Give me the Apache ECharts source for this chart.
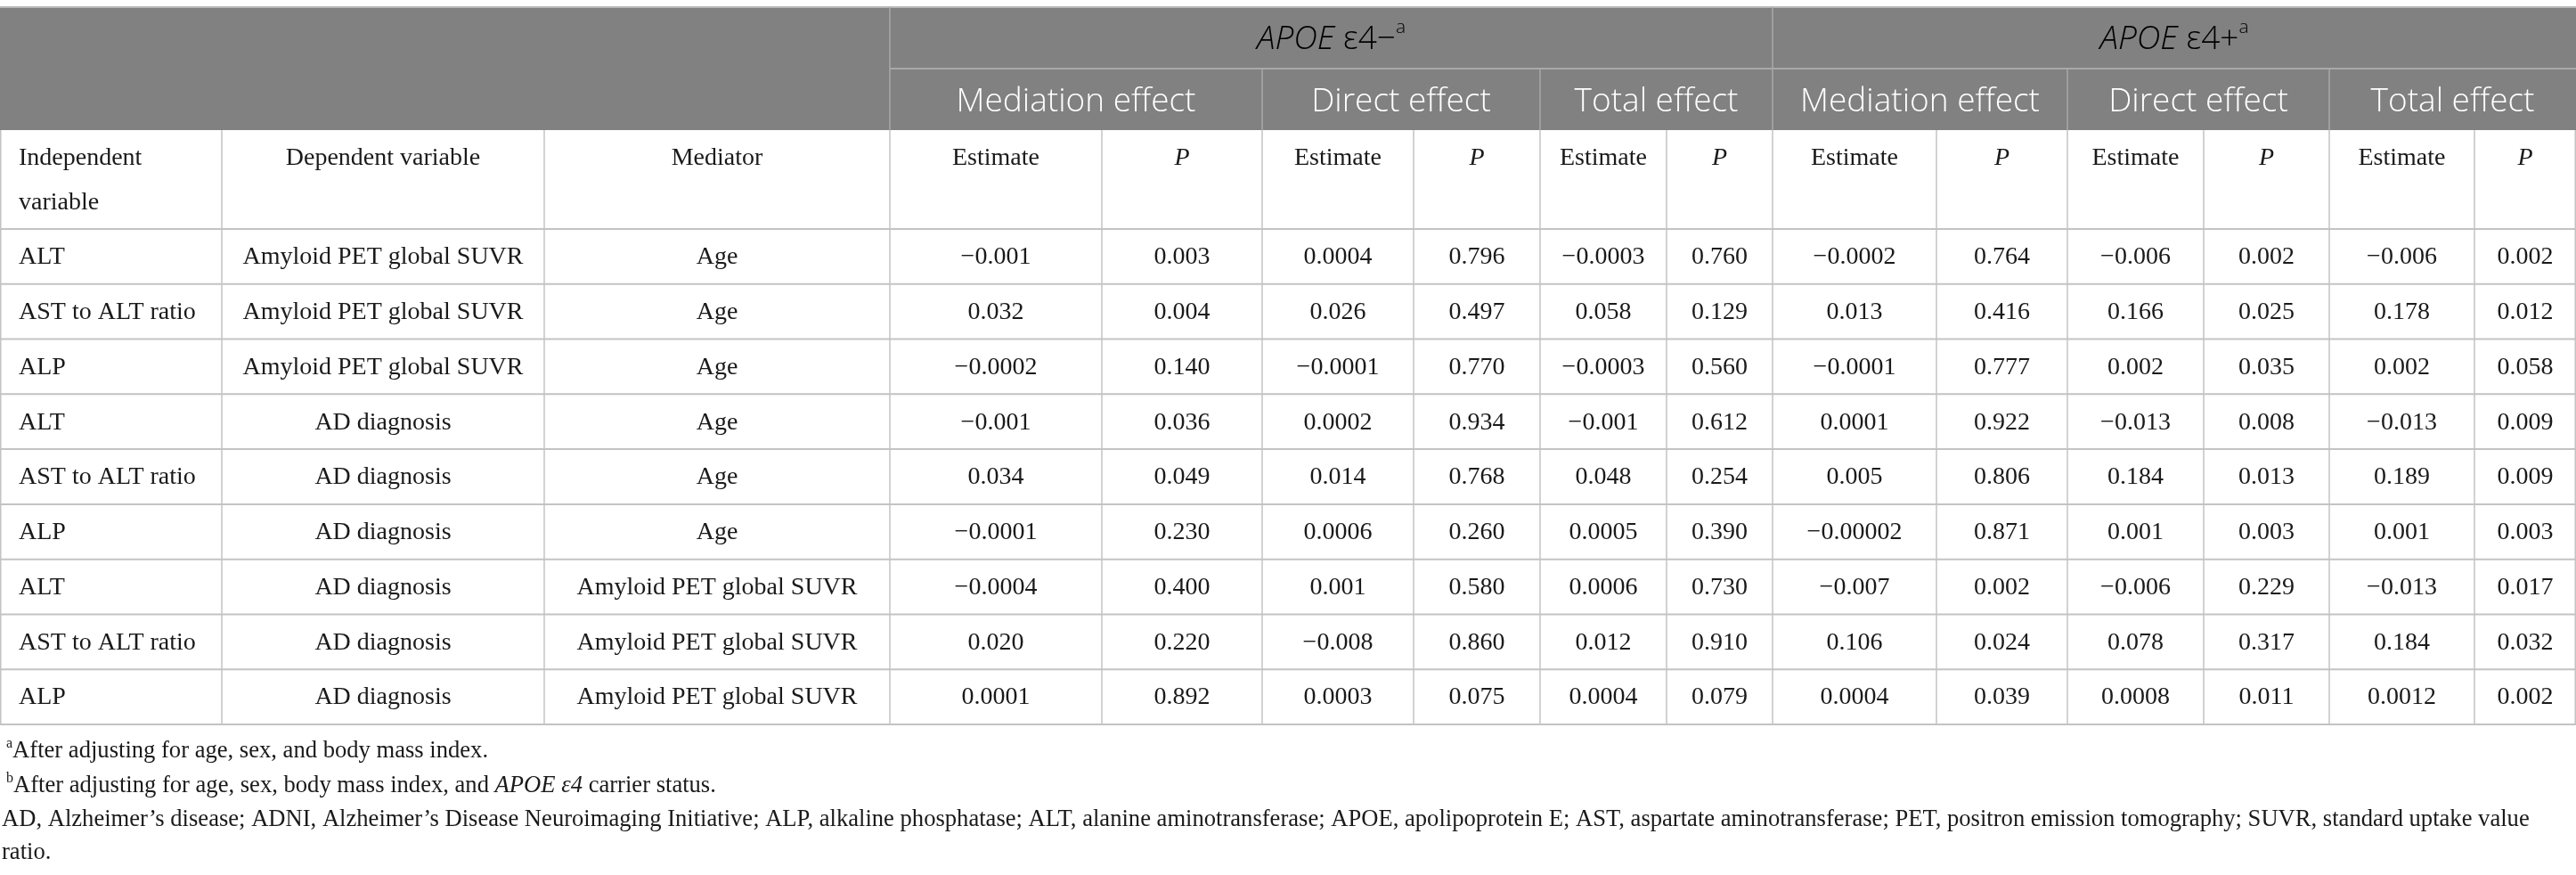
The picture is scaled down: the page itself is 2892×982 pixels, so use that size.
<!DOCTYPE html>
<html>
<head>
<meta charset="utf-8">
<script src="https://cdn.jsdelivr.net/npm/echarts@6/dist/echarts.min.js"></script>
<style>
html,body{margin:0;padding:0;background:#fff}
#main{width:2892px;height:982px}
</style>
</head>
<body>
<div id="main"></div>
<script>
// row labels
var indepVars = ['ALT', 'AST to ALT ratio', 'ALP', 'ALT', 'AST to ALT ratio', 'ALP', 'ALT', 'AST to ALT ratio', 'ALP'];
var depVars = ['Amyloid PET global SUVR', 'Amyloid PET global SUVR', 'Amyloid PET global SUVR',
  'AD diagnosis', 'AD diagnosis', 'AD diagnosis', 'AD diagnosis', 'AD diagnosis', 'AD diagnosis'];
var mediators = ['Age', 'Age', 'Age', 'Age', 'Age', 'Age',
  'Amyloid PET global SUVR', 'Amyloid PET global SUVR', 'Amyloid PET global SUVR'];

// APOE e4- (non carriers)
var negMedEst = ['−0.001', '0.032', '−0.0002', '−0.001', '0.034', '−0.0001', '−0.0004', '0.020', '0.0001'];
var negMedP   = ['0.003', '0.004', '0.140', '0.036', '0.049', '0.230', '0.400', '0.220', '0.892'];
var negDirEst = ['0.0004', '0.026', '−0.0001', '0.0002', '0.014', '0.0006', '0.001', '−0.008', '0.0003'];
var negDirP   = ['0.796', '0.497', '0.770', '0.934', '0.768', '0.260', '0.580', '0.860', '0.075'];
var negTotEst = ['−0.0003', '0.058', '−0.0003', '−0.001', '0.048', '0.0005', '0.0006', '0.012', '0.0004'];
var negTotP   = ['0.760', '0.129', '0.560', '0.612', '0.254', '0.390', '0.730', '0.910', '0.079'];

// APOE e4+ (carriers)
var posMedEst = ['−0.0002', '0.013', '−0.0001', '0.0001', '0.005', '−0.00002', '−0.007', '0.106', '0.0004'];
var posMedP   = ['0.764', '0.416', '0.777', '0.922', '0.806', '0.871', '0.002', '0.024', '0.039'];
var posDirEst = ['−0.006', '0.166', '0.002', '−0.013', '0.184', '0.001', '−0.006', '0.078', '0.0008'];
var posDirP   = ['0.002', '0.025', '0.035', '0.008', '0.013', '0.003', '0.229', '0.317', '0.011'];
var posTotEst = ['−0.006', '0.178', '0.002', '−0.013', '0.189', '0.001', '−0.013', '0.184', '0.0012'];
var posTotP   = ['0.002', '0.012', '0.058', '0.009', '0.009', '0.003', '0.017', '0.032', '0.002'];

var groupLabels = ['APOE', 'APOE'];
var groupSigns = ['ε4−', 'ε4+'];
var effectLabels = ['Mediation effect', 'Direct effect', 'Total effect'];
var footnotes = [
  '{sup|a}After adjusting for age, sex, and body mass index.',
  '{sup|b}After adjusting for age, sex, body mass index, and {it|APOE ε4} carrier status.',
  'AD, Alzheimer’s disease; ADNI, Alzheimer’s Disease Neuroimaging Initiative; ALP, alkaline phosphatase; ALT, alanine aminotransferase; APOE, apolipoprotein E; AST, aspartate aminotransferase; PET, positron emission tomography; SUVR, standard uptake value',
  'ratio.'
];

// layout (pixels)
var W = 2892, H = 982;
var COLS = [0, 249, 611, 999, 1237, 1417, 1587, 1729, 1871, 1990, 2174, 2321, 2474, 2615, 2778, 2892];
var HEAD_TOP = 8, HEAD_MID = 77, HEAD_BOT = 146, SUB_BOT = 257, BODY_BOT = 813;
var NROW = indepVars.length;
var ROW_H = (BODY_BOT - SUB_BOT) / NROW;
var SERIF = '"Liberation Serif", "DejaVu Serif", serif';
var SANS = '"Open Sans", "Noto Sans", sans-serif';
var GRID_C = '#c3c3c3';
var HEAD_FS = 37;

var valueCols = [negMedEst, negMedP, negDirEst, negDirP, negTotEst, negTotP,
  posMedEst, posMedP, posDirEst, posDirP, posTotEst, posTotP];

var chart = echarts.init(document.getElementById('main'));

var g = [];
// gray header band
g.push({type: 'rect', shape: {x: 0, y: HEAD_TOP, width: W, height: HEAD_BOT - HEAD_TOP}, style: {fill: '#808180'}, z: 1});
g.push({type: 'line', shape: {x1: 0, y1: HEAD_TOP, x2: W, y2: HEAD_TOP}, style: {stroke: '#b8b8b8', lineWidth: 2}, z: 2});
g.push({type: 'line', shape: {x1: COLS[3], y1: HEAD_MID, x2: W, y2: HEAD_MID}, style: {stroke: '#a8a8a8', lineWidth: 2}, z: 2});
[3, 9].forEach(function (c) {
  g.push({type: 'line', shape: {x1: COLS[c], y1: HEAD_TOP, x2: COLS[c], y2: HEAD_BOT}, style: {stroke: '#a8a8a8', lineWidth: 1.5}, z: 2});
});
[5, 7, 11, 13].forEach(function (c) {
  g.push({type: 'line', shape: {x1: COLS[c], y1: HEAD_MID, x2: COLS[c], y2: HEAD_BOT}, style: {stroke: '#a8a8a8', lineWidth: 1.5}, z: 2});
});
// group titles
[[COLS[3], COLS[9]], [COLS[9], W]].forEach(function (span, k) {
  g.push({type: 'text', z: 3, style: {
    x: (span[0] + span[1]) / 2, y: 44, align: 'center', verticalAlign: 'middle',
    text: '{it|' + groupLabels[k] + ' }{n|' + groupSigns[k] + '}{sup|a}',
    rich: {
      it: {fontFamily: SANS, fontStyle: 'italic', fontWeight: 300, fontSize: HEAD_FS, color: '#fff', lineHeight: 46},
      n: {fontFamily: SANS, fontWeight: 300, fontSize: HEAD_FS, color: '#fff', lineHeight: 46},
      sup: {fontFamily: SANS, fontWeight: 300, fontSize: 21, color: '#fff', verticalAlign: 'top', lineHeight: 22}
    }
  }});
});
// effect titles
for (var e = 0; e < 6; e++) {
  var c0 = 3 + e * 2;
  g.push({type: 'text', z: 3, style: {
    x: (COLS[c0] + COLS[c0 + 2]) / 2, y: 114, align: 'center', verticalAlign: 'middle',
    text: effectLabels[e % 3], fontFamily: SANS, fontWeight: 300, fontSize: HEAD_FS, fill: '#fff'
  }});
}
// sub header labels
g.push({type: 'text', z: 3, style: {x: 21, y: 178, align: 'left', verticalAlign: 'middle',
  text: 'Independent', fontFamily: SERIF, fontSize: 28, fill: '#1a1a1a'}});
g.push({type: 'text', z: 3, style: {x: 21, y: 228, align: 'left', verticalAlign: 'middle',
  text: 'variable', fontFamily: SERIF, fontSize: 28, fill: '#1a1a1a'}});
g.push({type: 'text', z: 3, style: {x: (COLS[1] + COLS[2]) / 2, y: 178, align: 'center', verticalAlign: 'middle',
  text: 'Dependent variable', fontFamily: SERIF, fontSize: 28, fill: '#1a1a1a'}});
g.push({type: 'text', z: 3, style: {x: (COLS[2] + COLS[3]) / 2, y: 178, align: 'center', verticalAlign: 'middle',
  text: 'Mediator', fontFamily: SERIF, fontSize: 28, fill: '#1a1a1a'}});
for (var c = 3; c < 15; c++) {
  var isP = (c - 3) % 2 === 1;
  g.push({type: 'text', z: 3, style: {x: (COLS[c] + COLS[c + 1]) / 2, y: 178, align: 'center', verticalAlign: 'middle',
    text: isP ? 'P' : 'Estimate', fontFamily: SERIF, fontStyle: isP ? 'italic' : 'normal', fontSize: 28, fill: '#1a1a1a'}});
}
// body grid
for (var r = 0; r <= NROW; r++) {
  var yy = SUB_BOT + r * ROW_H;
  g.push({type: 'line', shape: {x1: 0, y1: yy, x2: W, y2: yy}, style: {stroke: GRID_C, lineWidth: 2}, z: 2});
}
COLS.forEach(function (x, i) {
  var xx = i === 0 ? 0.75 : (i === COLS.length - 1 ? W - 0.75 : x);
  g.push({type: 'line', shape: {x1: xx, y1: HEAD_BOT, x2: xx, y2: BODY_BOT}, style: {stroke: GRID_C, lineWidth: 1.5}, z: 2});
});
// footnotes
var footY = [843, 882, 920, 957];
footnotes.forEach(function (t, i) {
  g.push({type: 'text', z: 3, style: {
    x: i < 2 ? 7 : 2, y: footY[i], align: 'left', verticalAlign: 'middle', text: t,
    rich: {
      it: {fontFamily: SERIF, fontStyle: 'italic', fontSize: 26.6, color: '#1a1a1a', lineHeight: 32},
      sup: {fontFamily: SERIF, fontSize: 16, color: '#1a1a1a', verticalAlign: 'top', lineHeight: 18}
    },
    fontFamily: SERIF, fontSize: 26.6, fill: '#1a1a1a', lineHeight: 32
  }});
});

// table body drawn as a custom series on a pixel-sized hidden grid
var rowIdx = indepVars.map(function (d, i) { return [i]; });

function renderRow(params, api) {
  var i = api.value(0);
  var yMid = SUB_BOT + ROW_H * (i + 0.5) + 1;
  var kids = [];
  function cell(txt, x, align) {
    var p = api.coord([x, yMid]);
    kids.push({type: 'text', style: {x: p[0], y: p[1], text: txt, align: align, verticalAlign: 'middle',
      fontFamily: SERIF, fontSize: 28, fill: '#1a1a1a'}});
  }
  cell(indepVars[i], 21, 'left');
  cell(depVars[i], (COLS[1] + COLS[2]) / 2, 'center');
  cell(mediators[i], (COLS[2] + COLS[3]) / 2, 'center');
  valueCols.forEach(function (col, k) {
    cell(col[i], (COLS[3 + k] + COLS[4 + k]) / 2, 'center');
  });
  return {type: 'group', children: kids};
}

chart.setOption({
  animation: false,
  grid: {left: 0, right: 0, top: 0, bottom: 0},
  xAxis: {type: 'value', min: 0, max: W, show: false},
  yAxis: {type: 'value', min: 0, max: H, inverse: true, show: false},
  graphic: g,
  series: [{
    type: 'custom',
    renderItem: renderRow,
    data: rowIdx,
    encode: {x: 0},
    clip: false,
    z: 5
  }]
});
</script>
</body>
</html>
